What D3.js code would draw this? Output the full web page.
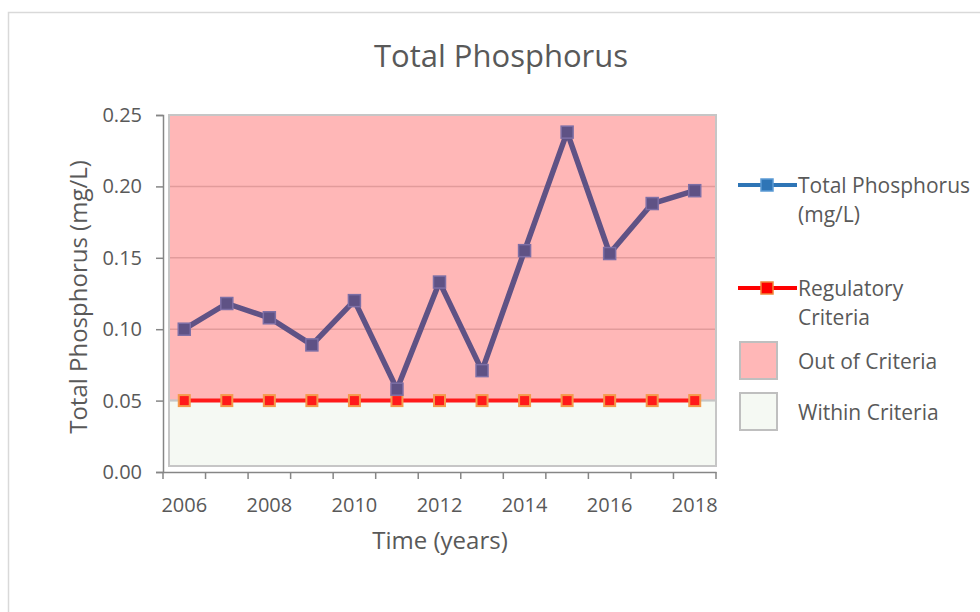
<!DOCTYPE html>
<html><head><meta charset="utf-8">
<script src="https://cdn.jsdelivr.net/npm/d3@7"></script>
<style>body{margin:0;background:#fff}svg{display:block}text{font-family:"Open Sans",sans-serif;fill:#595959}</style>
</head><body>
<svg id="c" width="980" height="612"></svg>
<script>
const years = [2006,2007,2008,2009,2010,2011,2012,2013,2014,2015,2016,2017,2018];
const phosphorus = [0.100,0.118,0.108,0.089,0.120,0.058,0.133,0.071,0.155,0.238,0.153,0.188,0.197];
const criteria = [0.05,0.05,0.05,0.05,0.05,0.05,0.05,0.05,0.05,0.05,0.05,0.05,0.05];
const yTicks = [0,0.05,0.10,0.15,0.20,0.25];
const xLabelYears = [2006,2008,2010,2012,2014,2016,2018];
const criterionLevel = 0.05, yMax = 0.25;

const svg = d3.select("#c");
svg.append("rect").attr("x",8.5).attr("y",12.5).attr("width",1000).attr("height",700)
  .attr("fill","#fff").attr("stroke","#d9d9d9").attr("stroke-width",1.5);

const m = {l:163, r:716, t:115, b:472};
const x = d3.scaleBand().domain(years).range([m.l, m.r]);
const y = d3.scaleLinear().domain([0,yMax]).range([m.b, m.t]);
const cx = d => x(d) + x.bandwidth()/2;

// zones
const zx0 = m.l + 6, zx1 = m.r;
svg.append("rect").attr("x",zx0).attr("y",y(yMax)).attr("width",zx1-zx0).attr("height",y(criterionLevel)-y(yMax))
  .attr("fill","#ffb7b7").attr("stroke","#c6c6c6").attr("stroke-width",2);
svg.append("rect").attr("x",zx0).attr("y",y(criterionLevel)).attr("width",zx1-zx0).attr("height",y(0)-6-y(criterionLevel))
  .attr("fill","#f5f9f3").attr("stroke","#c6c6c6").attr("stroke-width",2);

// gridlines
svg.append("g").selectAll("line").data(yTicks.filter(v=>v>criterionLevel && v<yMax)).join("line")
  .attr("x1",zx0+1).attr("x2",zx1-1).attr("y1",d=>y(d)).attr("y2",d=>y(d))
  .attr("stroke","#e29b9b").attr("stroke-width",1.5);

// axes
const yAxis = svg.append("g").attr("transform",`translate(${m.l},0)`)
  .call(d3.axisLeft(y).tickValues(yTicks).tickFormat(d3.format(".2f")).tickSizeOuter(0).tickSize(7).tickPadding(14));
yAxis.select(".domain").attr("stroke","#868686").attr("stroke-width",1.5);
yAxis.selectAll(".tick line").attr("stroke","#868686").attr("stroke-width",1.5);
yAxis.selectAll("text").style("font-size","20px").attr("fill","#595959").attr("font-family","Open Sans");

const xAxis = svg.append("g").attr("transform",`translate(0,${m.b})`)
  .call(d3.axisBottom(x).tickValues([]).tickSizeOuter(0));
xAxis.select(".domain").attr("stroke","#868686").attr("stroke-width",1.5);
const bounds = years.map(d=>x(d)).concat([m.r]);
xAxis.selectAll("line.b").data(bounds).join("line").attr("class","b")
  .attr("x1",d=>d).attr("x2",d=>d).attr("y1",0).attr("y2",7).attr("stroke","#868686").attr("stroke-width",1.5);
xAxis.selectAll("text.l").data(xLabelYears).join("text").attr("class","l")
  .attr("x",d=>cx(d)).attr("y",40).attr("text-anchor","middle").style("font-size","20px").text(d=>d);

// criteria line
svg.append("path").datum(criteria.map((v,i)=>[cx(years[i]),y(v)]))
  .attr("d",d3.line()).attr("fill","none").attr("stroke","#ff1a1a").attr("stroke-width",4);
svg.append("g").selectAll("rect").data(criteria.map((v,i)=>[years[i],v])).join("rect")
  .attr("x",d=>cx(d[0])-5.5).attr("y",d=>y(d[1])-5.5).attr("width",11).attr("height",11)
  .attr("fill","#ff1a1a").attr("stroke","#f59a4a").attr("stroke-width",2);

// phosphorus line
svg.append("path").datum(phosphorus.map((v,i)=>[cx(years[i]),y(v)]))
  .attr("d",d3.line()).attr("fill","none").attr("stroke","#5f5285").attr("stroke-width",5.5).attr("stroke-linejoin","round");
svg.append("g").selectAll("rect").data(phosphorus.map((v,i)=>[years[i],v])).join("rect")
  .attr("x",d=>cx(d[0])-6).attr("y",d=>y(d[1])-6).attr("width",12).attr("height",12)
  .attr("fill","#5f5285").attr("stroke","#7d6fa6").attr("stroke-width",1.5);

// titles
svg.append("text").attr("x",501).attr("y",67).attr("text-anchor","middle").style("font-size","31px").text("Total Phosphorus");
svg.append("text").attr("x",440).attr("y",549).attr("text-anchor","middle").style("font-size","24px").text("Time (years)");
svg.append("text").attr("transform","translate(87,297) rotate(-90)").attr("text-anchor","middle").style("font-size","24px").text("Total Phosphorus (mg/L)");

// legend
const lg = svg.append("g");
function lineItem(yy, stroke, fill, mstroke, lines){
  lg.append("line").attr("x1",738).attr("x2",797).attr("y1",yy).attr("y2",yy).attr("stroke",stroke).attr("stroke-width",4);
  lg.append("rect").attr("x",761).attr("y",yy-6).attr("width",12).attr("height",12).attr("fill",fill).attr("stroke",mstroke).attr("stroke-width",1.5);
  lines.forEach((t,i)=>lg.append("text").attr("x",798).attr("y",yy+8+i*29).style("font-size","21px").text(t));
}
lineItem(185,"#2e75b6","#2e75b6","#5b9bd5",["Total Phosphorus","(mg/L)"]);
lineItem(288,"#ff0000","#ff0000","#f0883a",["Regulatory","Criteria"]);
function boxItem(yy, fill, label){
  lg.append("rect").attr("x",740).attr("y",yy-19).attr("width",37).attr("height",37).attr("fill",fill).attr("stroke","#bfbfbf").attr("stroke-width",2);
  lg.append("text").attr("x",798).attr("y",yy+8).style("font-size","21px").text(label);
}
boxItem(361,"#ffb7b7","Out of Criteria");
boxItem(412,"#f5f9f3","Within Criteria");
</script>
</body></html>
